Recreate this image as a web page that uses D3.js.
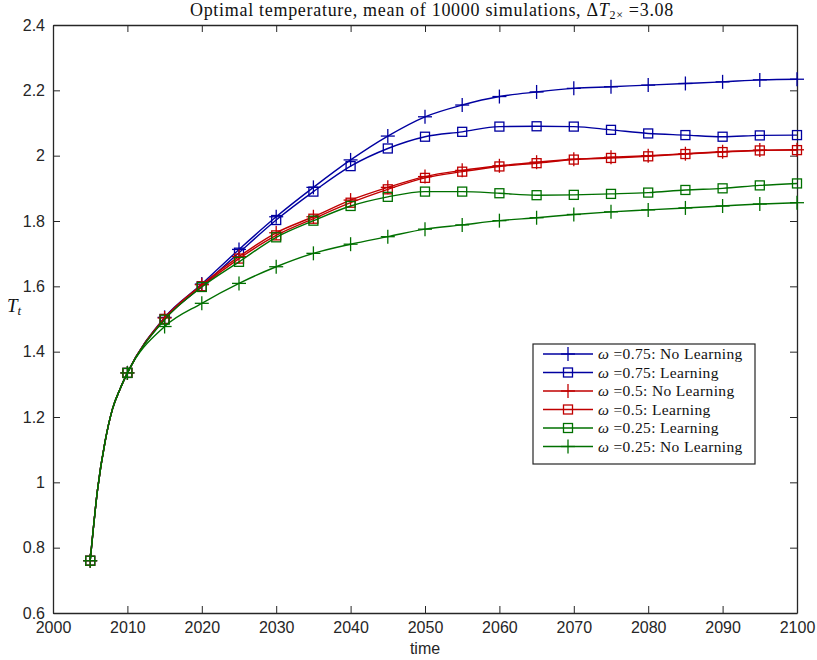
<!DOCTYPE html>
<html>
<head>
<meta charset="utf-8">
<script src="https://cdn.jsdelivr.net/npm/d3@7"></script>
<style>
  body { margin: 0; background: #fff; }
</style>
</head>
<body>
<script>
// yearly 2005-2010, then every 5 years
let years = [2005, 2006, 2007, 2008, 2009, 2010, 2015, 2020, 2025, 2030, 2035, 2040, 2045, 2050,
  2055, 2060, 2065, 2070, 2075, 2080, 2085, 2090, 2095, 2100];

let blueNoLearning = [0.76, 0.98, 1.125, 1.225, 1.285, 1.335, 1.505, 1.607, 1.713, 1.813, 1.903, 1.987,
  2.060, 2.119, 2.155, 2.181, 2.195, 2.206, 2.211, 2.216, 2.221, 2.226, 2.232, 2.234];
let blueLearning = [0.76, 0.98, 1.125, 1.225, 1.285, 1.335, 1.500, 1.600, 1.703, 1.803, 1.890, 1.968,
  2.022, 2.058, 2.073, 2.089, 2.090, 2.089, 2.079, 2.068, 2.063, 2.058, 2.062, 2.063];
let redNoLearning = [0.76, 0.98, 1.125, 1.225, 1.285, 1.335, 1.503, 1.605, 1.691, 1.764, 1.813, 1.864,
  1.903, 1.936, 1.955, 1.969, 1.980, 1.989, 1.995, 2.000, 2.006, 2.012, 2.017, 2.018];
let redLearning = [0.76, 0.98, 1.125, 1.225, 1.285, 1.335, 1.500, 1.600, 1.685, 1.756, 1.807, 1.856,
  1.897, 1.932, 1.951, 1.967, 1.977, 1.988, 1.993, 1.998, 2.005, 2.011, 2.016, 2.017];
let greenLearning = [0.76, 0.98, 1.125, 1.225, 1.285, 1.335, 1.498, 1.598, 1.675, 1.750, 1.801, 1.846,
  1.874, 1.890, 1.890, 1.885, 1.879, 1.880, 1.883, 1.887, 1.895, 1.900, 1.909, 1.915];
let greenNoLearning = [0.76, 0.98, 1.125, 1.225, 1.285, 1.335, 1.477, 1.548, 1.609, 1.660, 1.701, 1.729,
  1.752, 1.775, 1.788, 1.801, 1.810, 1.820, 1.828, 1.834, 1.840, 1.846, 1.852, 1.856];

let seriesLabels = ["0.75: No Learning", "0.75: Learning", "0.5: No Learning", "0.5: Learning",
  "0.25: Learning", "0.25: No Learning"];
let xTicks = [2000, 2010, 2020, 2030, 2040, 2050, 2060, 2070, 2080, 2090, 2100];
let yTicks = [0.6, 0.8, 1, 1.2, 1.4, 1.6, 1.8, 2, 2.2, 2.4];

let series = [
  { label: seriesLabels[0], values: blueNoLearning, color: "#0000a0", marker: "plus" },
  { label: seriesLabels[1], values: blueLearning, color: "#0000a0", marker: "square" },
  { label: seriesLabels[2], values: redNoLearning, color: "#c00000", marker: "plus" },
  { label: seriesLabels[3], values: redLearning, color: "#c00000", marker: "square" },
  { label: seriesLabels[4], values: greenLearning, color: "#007000", marker: "square" },
  { label: seriesLabels[5], values: greenNoLearning, color: "#007000", marker: "plus" }
];

let svg = d3.select('body')
  .append('svg')
  .attr("width", 817)
  .attr("height", 660);

let plotLeft = 53, plotRight = 797, plotTop = 25, plotBottom = 613;
let axisColor = "#262626";

let x = d3.scaleLinear().domain([2000, 2100]).range([plotLeft, plotRight]);
let y = d3.scaleLinear().domain([0.6, 2.4]).range([plotBottom, plotTop]);

// title
let title = svg.append("text")
  .attr("x", 432)
  .attr("y", 16)
  .attr("text-anchor", "middle")
  .attr("font-family", "Liberation Serif, serif")
  .attr("font-size", 18)
  .attr("letter-spacing", 0.7)
  .attr("fill", "#111");
title.append("tspan").text("Optimal temperature, mean of 10000 simulations, \u0394");
title.append("tspan").attr("font-style", "italic").text("T");
title.append("tspan").attr("font-size", 12).attr("dy", 3).text("2\u00d7");
title.append("tspan").attr("dy", -3).text(" =3.08");

// axes
let tickLen = 7;
function styleAxis(g) {
  g.selectAll("path").attr("stroke", axisColor).attr("stroke-width", 1.3);
  g.selectAll("line").attr("stroke", axisColor).attr("stroke-width", 1);
  g.selectAll("text").attr("fill", axisColor)
    .attr("font-family", "Liberation Sans, Arial, sans-serif").attr("font-size", 16);
}

svg.append("g")
  .attr("transform", `translate(0,${plotBottom})`)
  .call(d3.axisBottom(x).tickValues(xTicks).tickFormat(d3.format("d"))
    .tickSizeInner(-tickLen).tickSizeOuter(0).tickPadding(9))
  .call(styleAxis);

svg.append("g")
  .attr("transform", `translate(0,${plotTop})`)
  .call(d3.axisTop(x).tickValues(xTicks).tickFormat("")
    .tickSizeInner(-tickLen).tickSizeOuter(0))
  .call(styleAxis);

svg.append("g")
  .attr("transform", `translate(${plotLeft},0)`)
  .call(d3.axisLeft(y).tickValues(yTicks).tickFormat(d => d3.format("")(+d.toFixed(1)))
    .tickSizeInner(-tickLen).tickSizeOuter(0).tickPadding(8))
  .call(styleAxis);

svg.append("g")
  .attr("transform", `translate(${plotRight},0)`)
  .call(d3.axisRight(y).tickValues(yTicks).tickFormat("")
    .tickSizeInner(-tickLen).tickSizeOuter(0))
  .call(styleAxis);

// axis labels
svg.append("text")
  .attr("x", 425)
  .attr("y", 654)
  .attr("text-anchor", "middle")
  .attr("font-family", "Liberation Sans, Arial, sans-serif")
  .attr("font-size", 16)
  .attr("fill", axisColor)
  .text("time");

let ylab = svg.append("text")
  .attr("x", 7)
  .attr("y", 312)
  .attr("font-family", "Liberation Serif, serif")
  .attr("font-size", 19)
  .attr("fill", "#111");
ylab.append("tspan").attr("font-style", "italic").text("T");
ylab.append("tspan").attr("font-style", "italic").attr("font-size", 13).attr("dy", 3).text("t");

// lines
let lineFunction = d3.line()
  .x((d, i) => x(years[i]))
  .y(d => y(d))
  .curve(d3.curveMonotoneX);

function drawMarker(g, px, py, kind, color) {
  if (kind === "plus") {
    g.append("line").attr("x1", px - 7).attr("x2", px + 7).attr("y1", py).attr("y2", py)
      .attr("stroke", color).attr("stroke-width", 1.3);
    g.append("line").attr("x1", px).attr("x2", px).attr("y1", py - 7).attr("y2", py + 7)
      .attr("stroke", color).attr("stroke-width", 1.3);
  } else {
    g.append("rect").attr("x", px - 4.5).attr("y", py - 4.5).attr("width", 9).attr("height", 9)
      .attr("fill", "none").attr("stroke", color).attr("stroke-width", 1.3);
  }
}

series.forEach(s => {
  let g = svg.append("g");
  g.append("path")
    .attr("d", lineFunction(s.values))
    .attr("stroke", s.color)
    .attr("stroke-width", 1.4)
    .attr("fill", "none");
  s.values.forEach((v, i) => {
    if (years[i] % 5 === 0) drawMarker(g, x(years[i]), y(v), s.marker, s.color);
  });
});

// legend
let lx = 533, ly = 344, lw = 222, lh = 120;
let legend = svg.append("g");
legend.append("rect")
  .attr("x", lx).attr("y", ly).attr("width", lw).attr("height", lh)
  .attr("fill", "#fff").attr("stroke", axisColor).attr("stroke-width", 1.2);

series.forEach((s, i) => {
  let cy = ly + 10 + i * 18.5;
  legend.append("line")
    .attr("x1", lx + 10).attr("x2", lx + 60).attr("y1", cy).attr("y2", cy)
    .attr("stroke", s.color).attr("stroke-width", 1.4);
  drawMarker(legend, lx + 35, cy, s.marker, s.color);
  let t = legend.append("text")
    .attr("x", lx + 65).attr("y", cy + 5)
    .attr("font-family", "Liberation Serif, serif")
    .attr("font-size", 15.5)
    .attr("letter-spacing", 0.35)
    .attr("fill", "#111");
  t.append("tspan").attr("font-style", "italic").text("\u03c9");
  t.append("tspan").text(" =" + s.label);
});
</script>
</body>
</html>
